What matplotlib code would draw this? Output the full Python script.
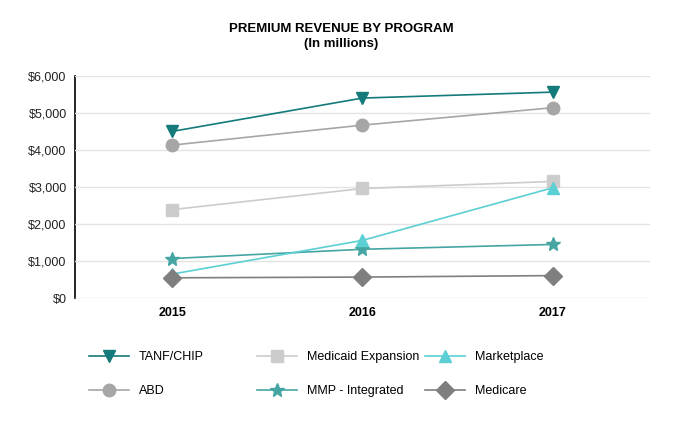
import matplotlib.pyplot as plt

plt.rcParams['font.family'] = ['Liberation Sans', 'DejaVu Sans']

years = ["2015", "2016", "2017"]
tanf = [4500, 5400, 5560]
abd = [4130, 4670, 5140]
medicaid_exp = [2390, 2960, 3150]
marketplace = [650, 1560, 2980]
mmp = [1070, 1320, 1450]
medicare = [550, 570, 610]

fig = plt.figure(figsize=(6.82, 4.26), dpi=100)
ax = fig.add_axes([0.110, 0.300, 0.843, 0.522])

x = range(len(years))
l1, = ax.plot(x, tanf, color="#147A7A", marker="v", markersize=9, lw=1.2, label="TANF/CHIP")
l2, = ax.plot(x, abd, color="#A6A6A6", marker="o", markersize=9, lw=1.2, label="ABD")
l3, = ax.plot(x, medicaid_exp, color="#CCCCCC", marker="s", markersize=9, lw=1.2, label="Medicaid Expansion")
l4, = ax.plot(x, mmp, color="#45A5A3", marker="*", markersize=10, lw=1.2, label="MMP - Integrated")
l5, = ax.plot(x, marketplace, color="#5BCFD3", marker="^", markersize=9, lw=1.2, label="Marketplace")
l6, = ax.plot(x, medicare, color="#7F7F7F", marker="D", markersize=9, lw=1.2, label="Medicare")

ax.set_xlim(-0.51, 2.51)
ax.set_ylim(0, 6000)
ax.set_xticks(list(x))
ax.set_xticklabels(years, fontweight="bold", fontsize=9)
ax.set_yticks(range(0, 6001, 1000))
ax.set_yticklabels(["$" + format(v, ",") for v in range(0, 6001, 1000)], fontsize=9, color="#222222")
ax.tick_params(length=0, pad=6)
ax.yaxis.grid(True, color="#E3E3E3", lw=1)
ax.set_axisbelow(True)
for s in ["top", "right", "bottom"]:
    ax.spines[s].set_visible(False)
ax.spines["left"].set_color("black")
ax.spines["left"].set_linewidth(1.2)
ax.spines["left"].set_zorder(0.5)

fig.text(0.5, 0.914, "PREMIUM REVENUE BY PROGRAM\n(In millions)", ha="center", va="center",
         fontweight="bold", fontsize=9.5, linespacing=1.3)

# three fixed-width legend columns
cols = [([l1, l2], 0.1305), ([l3, l4], 0.377), ([l5, l6], 0.623)]
for hs, xpos in cols:
    fig.legend(handles=hs, loc="center left", bbox_to_anchor=(xpos, 0.122),
               frameon=False, fontsize=9, handlelength=3.2, borderpad=0, borderaxespad=0,
               labelspacing=1.75, handletextpad=0.8)

plt.savefig("out.png", dpi=100)
